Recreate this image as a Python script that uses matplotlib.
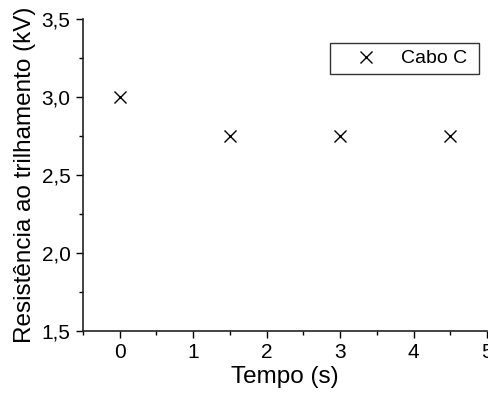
import matplotlib
matplotlib.use('Agg')
import matplotlib.pyplot as plt
from matplotlib.ticker import MultipleLocator, FuncFormatter

# dados
tempo = [0, 1.5, 3, 4.5]
resistencia = [3.0, 2.75, 2.75, 2.75]

plt.rcParams['font.family'] = ['Liberation Sans', 'DejaVu Sans']

fig = plt.figure(figsize=(4.89, 3.97), dpi=100)
ax = fig.add_axes([83/489, (397-330.7)/397, (487-83)/489, (330.7-19)/397])

ax.plot(tempo, resistencia, 'x', color='black', markersize=9, mew=1, label='Cabo C\u00a0')

ax.set_xlim(-0.5, 5.0)
ax.set_ylim(1.5, 3.5)
ax.xaxis.set_major_locator(MultipleLocator(1))
ax.xaxis.set_minor_locator(MultipleLocator(0.5))
ax.yaxis.set_major_locator(MultipleLocator(0.5))
ax.yaxis.set_minor_locator(MultipleLocator(0.25))
ax.yaxis.set_major_formatter(FuncFormatter(lambda v, p: ('%.1f' % v).replace('.', ',')))

for s in ['top', 'right']:
    ax.spines[s].set_visible(False)
for s in ['left', 'bottom']:
    ax.spines[s].set_linewidth(1.2)
    ax.spines[s].set_color('#222222')
ax.tick_params(which='major', direction='out', length=5, width=1, labelsize=15, pad=4)
ax.tick_params(which='minor', direction='out', length=3, width=1)

ax.set_xlabel('Tempo (s)', fontsize=17.5, labelpad=3)
ax.set_ylabel('Resistência ao trilhamento (kV)', fontsize=17.5, labelpad=4)

leg = ax.legend(loc='upper right', bbox_to_anchor=(0.98, 0.923), frameon=True, fancybox=False,
                edgecolor='black', fontsize=14, borderpad=0.35, handletextpad=0.3,
                handlelength=3.0, borderaxespad=0)
leg.get_frame().set_linewidth(1)

fig.savefig('out.png', dpi=100)
